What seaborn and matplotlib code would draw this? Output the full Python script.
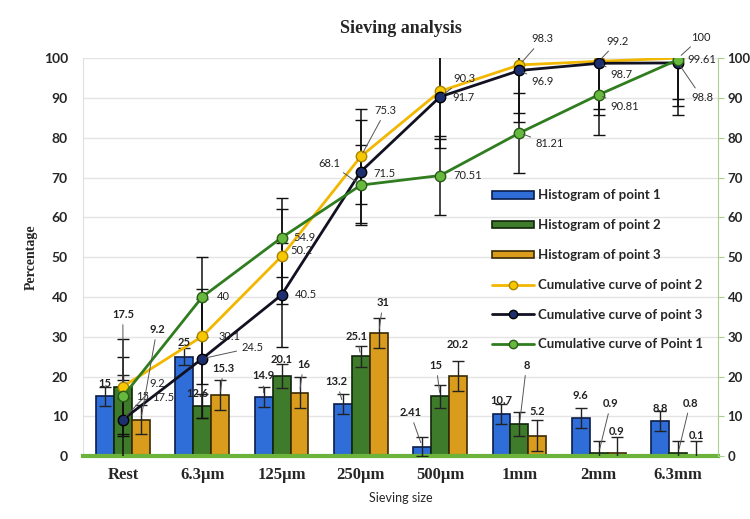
import numpy as np
import pandas as pd
import matplotlib
matplotlib.use("Agg")
import matplotlib.pyplot as plt
import seaborn as sns
from matplotlib.patches import Patch
from matplotlib.lines import Line2D

sizes = ["Rest", "6.3µm", "125µm", "250µm", "500µm", "1mm", "2mm", "6.3mm"]

hist_p1 = [15, 25, 14.9, 13.2, 2.41, 10.7, 9.6, 8.8]
hist_p2 = [17.5, 12.6, 20.1, 25.1, 15, 8, 0.9, 0.8]
hist_p3 = [9.2, 15.3, 16, 31, 20.2, 5.2, 0.9, 0.1]
hist_p1_err = [2.5, 2.2, 2.5, 2.5, 2.4, 2.5, 2.5, 2.5]
hist_p2_err = [3, 3, 3, 2.7, 3, 3, 3, 3]
hist_p3_err = [3.6, 3.8, 3.8, 3.8, 3.8, 3.8, 3.8, 3.8]

cum_p2 = [17.5, 30.1, 50.2, 75.3, 91.7, 98.3, 99.2, 100]
cum_p3 = [9.2, 24.5, 40.5, 71.5, 90.3, 96.9, 98.7, 98.8]
cum_p1 = [15, 40, 54.9, 68.1, 70.51, 81.21, 90.81, 99.61]
cum_p2_err = [12, 12, 12, 12, 12, 12, 12, 12]
cum_p3_err = [10, 15, 13, 13, 13, 13, 13, 13]
cum_p1_err = [10, 10, 10, 10, 10, 10, 10, 10]

hist_names = ["Histogram of point 1", "Histogram of point 2", "Histogram of point 3"]
cum_names = ["Cumulative curve of point 2", "Cumulative curve of point 3", "Cumulative curve of Point 1"]

bar_colors = ["#2F6ED8", "#3E7B2A", "#D99C1C"]
bar_edges = ["#0B1D4A", "#10260B", "#3B2A05"]
line_colors = ["#F2B700", "#111122", "#2F7D1F"]
marker_faces = ["#F7C800", "#1D2F6E", "#66B83E"]
marker_edges = ["#A88400", "#000000", "#2A5C17"]

sns.set_style("white")
plt.rcParams["font.family"] = ["Lato", "DejaVu Sans"]

fig = plt.figure(figsize=(7.5, 5.19), dpi=100)
ax = fig.add_axes([0.111, 0.121, 0.846, 0.767])

df = pd.DataFrame({
    "size": sizes * 3,
    "value": hist_p1 + hist_p2 + hist_p3,
    "series": [hist_names[0]] * 8 + [hist_names[1]] * 8 + [hist_names[2]] * 8,
})
sns.barplot(data=df, x="size", y="value", hue="series", palette=bar_colors,
            width=0.68, errorbar=None, legend=False, saturation=1, ax=ax, zorder=2)

hist_vals = [hist_p1, hist_p2, hist_p3]
hist_errs = [hist_p1_err, hist_p2_err, hist_p3_err]
bar_conts = list(ax.containers)
bar_x = []
for k, cont in enumerate(bar_conts):
    xs = []
    for p in cont.patches:
        p.set_edgecolor(bar_edges[k])
        p.set_linewidth(1.2)
        xs.append(p.get_x() + p.get_width() / 2)
    bar_x.append(xs)
for k in range(3):
    ax.errorbar(bar_x[k], hist_vals[k], yerr=hist_errs[k], fmt="none", ecolor="#222222",
                elinewidth=1, capsize=4, zorder=3)

xpos = np.arange(len(sizes))
cum_vals = [cum_p2, cum_p3, cum_p1]
cum_errs = [cum_p2_err, cum_p3_err, cum_p1_err]
for k in range(3):
    ax.errorbar(xpos, cum_vals[k], yerr=cum_errs[k], fmt="none", ecolor="#111111",
                elinewidth=1.1, capsize=4.5, zorder=4)
for k in [0, 1, 2]:
    sns.lineplot(x=xpos, y=cum_vals[k], color=line_colors[k], lw=2.0, ax=ax,
                 marker="o", markersize=7.5, markerfacecolor=marker_faces[k],
                 markeredgecolor=marker_edges[k], markeredgewidth=1, zorder=5 + k)

# data labels: (dx, dy) pixel offsets, leader flag
cum_offsets = [
    [(40, -11, 0), (27, 0, 0), (20, 6, 0), (25, 46, 1), (23, -6, 0), (23, 26, 1), (19, 20, 1), (23, 21, 1)],
    [(34, 36, 1), (50, 11, 1), (24, 0, 0), (24, -2, 0), (24, 18, 1), (23, -11, 1), (23, -11, 1), (24, -35, 1)],
    [(20, 0, 0), (21, 0, 0), (23, 0, 0), (-31, 22, 1), (28, 0, 0), (30, -11, 1), (26, -12, 1), (24, 0, 0)],
]
hist_offsets = [
    [(0, 13, 0), (0, 14, 0), (0, 21, 1), (-6, 22, 1), (-12, 34, 1), (0, 13, 0), (0, 22, 0), (0, 13, 0)],
    [(0, 72, 1), (-5, 13, 0), (0, 17, 0), (-4, 20, 1), (-4, 31, 1), (7, 59, 1), (12, 49, 1), (12, 50, 1)],
    [(16, 90, 1), (3, 27, 1), (4, 28, 1), (4, 30, 1), (0, 31, 0), (0, 24, 0), (0, 21, 0), (0, 20, 0)],
]


def put_label(x, y, txt, off, bold):
    dx, dy, lead = off
    arrow = None
    if lead:
        arrow = dict(arrowstyle="-", color="#555555", lw=0.7, shrinkA=1, shrinkB=3)
    ax.annotate(txt, (x, y), xytext=(dx, dy), textcoords="offset pixels",
                ha="center", va="center", fontsize=8,
                fontweight="bold" if bold else "normal", color="#222222",
                arrowprops=arrow, zorder=10)


for k in range(3):
    for i, v in enumerate(cum_vals[k]):
        put_label(xpos[i], v, f"{v:g}", cum_offsets[k][i], False)
    for i, v in enumerate(hist_vals[k]):
        put_label(bar_x[k][i], v, f"{v:g}", hist_offsets[k][i], True)

ax.set_xlim(-0.5, len(sizes) - 0.5)
ax.set_ylim(0, 100)
ax.set_yticks(range(0, 101, 10))
ax.grid(axis="y", color="#E4E4E4", lw=1)
ax.set_axisbelow(True)
ax.tick_params(axis="y", labelsize=10, length=0, pad=11)
for t in ax.get_yticklabels():
    t.set_fontweight("bold")
ax.tick_params(axis="x", length=0, pad=8)
ax.set_xticks(xpos)
ax.set_xticklabels(sizes, family="Liberation Serif", fontweight="bold", fontsize=12)

for s in ["top", "right"]:
    ax.spines[s].set_visible(False)
ax.spines["left"].set_color("#E0E0E0")
ax.spines["bottom"].set_color("#6BB33A")
ax.spines["bottom"].set_linewidth(3)

ax.set_xlabel("Sieving size", fontsize=9, labelpad=6)
ax.set_ylabel("Percentage", family="Liberation Serif", fontweight="bold", fontsize=10, labelpad=4)
ax.set_title("Sieving analysis", family="Liberation Serif", fontweight="bold", fontsize=13, pad=18)

ax2 = ax.twinx()
ax2.set_ylim(0, 100)
ax2.set_yticks(range(0, 101, 10))
ax2.tick_params(axis="y", labelsize=9.5, length=4, color="#A9D08E", pad=3)
for t in ax2.get_yticklabels():
    t.set_fontweight("bold")
for s in ["top", "left", "bottom"]:
    ax2.spines[s].set_visible(False)
ax2.spines["right"].set_color("#A9D08E")
ax2.grid(False)

handles = [Patch(facecolor=bar_colors[k], edgecolor=bar_edges[k], lw=1.2) for k in range(3)]
handles += [Line2D([], [], color=line_colors[k], lw=2.0, marker="o", markersize=6,
                   markerfacecolor=marker_faces[k], markeredgecolor=marker_edges[k])
            for k in range(3)]
leg = ax.legend(handles, hist_names + cum_names, loc="upper left", bbox_to_anchor=(0.625, 0.70),
                frameon=False, labelspacing=1.35, handlelength=3.2, handleheight=0.5,
                handletextpad=0.3, prop={"weight": "bold", "size": 9.5})
leg.set_zorder(20)

fig.savefig("out.png", dpi=100)
